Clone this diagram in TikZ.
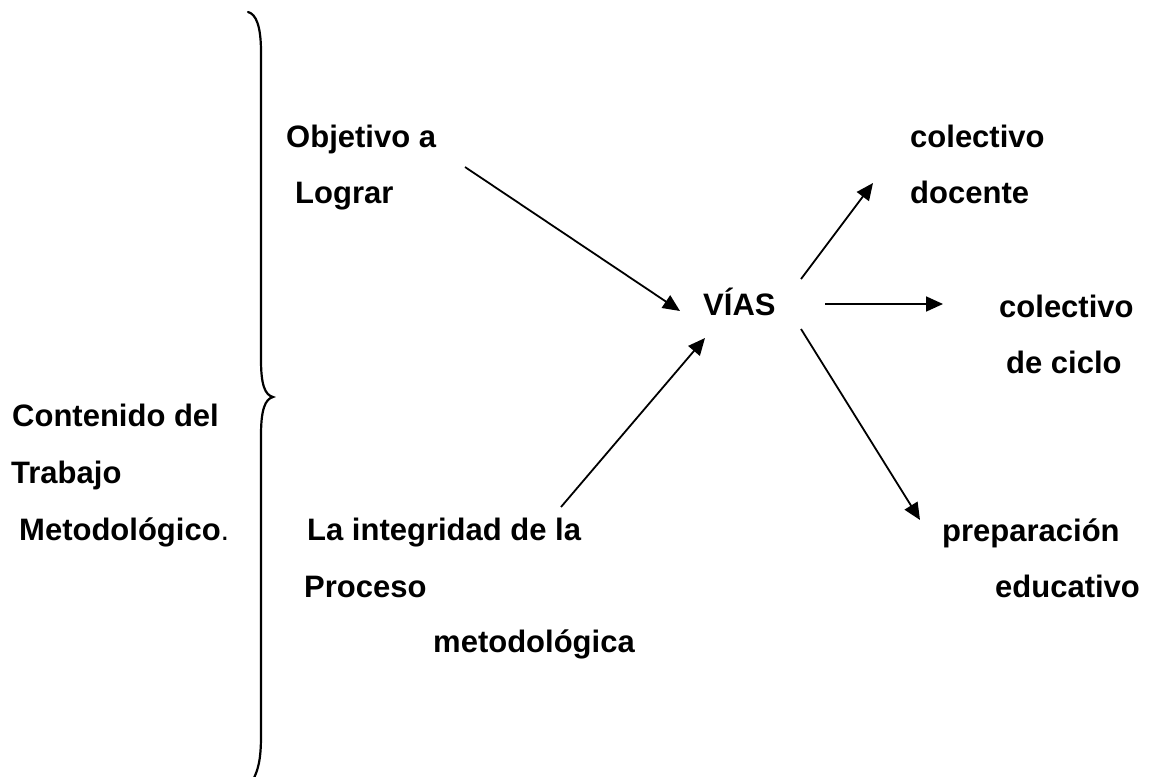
\documentclass[tikz,border=0pt]{standalone}
\usepackage{fontspec}
\setmainfont{Liberation Sans}
\usetikzlibrary{arrows.meta}
\begin{document}
\begin{tikzpicture}[x=1pt,y=-1pt,
  lbl/.style={anchor=base west,inner sep=0pt,font=\fontsize{31}{37}\selectfont\bfseries},
  conn/.style={line width=1.8pt,-{Triangle[length=17pt,width=15pt]}},
  bracestroke/.style={line width=2.2pt,line cap=round}]
\useasboundingbox (0,0) rectangle (1150,776);
% texts
\node[lbl] (obj1) at (286,147) {Objetivo a};
\node[lbl] (obj2) at (295,203) {Lograr};
\node[lbl] (cd1) at (910,147) {colectivo};
\node[lbl] (cd2) at (910,203) {docente};
\node[lbl] (vias) at (703,315) {VÍAS};
\node[lbl] (cc1) at (999,317) {colectivo};
\node[lbl] (cc2) at (1006,373) {de ciclo};
\node[lbl] (ct1) at (12,426) {Contenido del};
\node[lbl] (ct2) at (11,483) {Trabajo};
\node[lbl] (ct3) at (19,540) {Metodológico\textmd{.}};
\node[lbl] (li1) at (307,540) {La integridad de la};
\node[lbl] (li2) at (304,597) {Proceso};
\node[lbl] (li3) at (433,652) {metodológica};
\node[lbl] (pe1) at (942,541) {preparación};
\node[lbl] (pe2) at (995,597) {educativo};
% connector ends
\coordinate (objout) at (465,167);
\coordinate (viasinA) at (680,311);
\coordinate (intout) at (561,507);
\coordinate (viasinB) at (705,338);
\coordinate (viasoutA) at (801,279);
\coordinate (docin) at (873,183);
\coordinate (viasoutB) at (825,304);
\coordinate (cicloin) at (943,304);
\coordinate (viasoutC) at (801,329);
\coordinate (prepin) at (920,520);
% connectors
\draw[conn] (objout) -- (viasinA);
\draw[conn] (intout) -- (viasinB);
\draw[conn] (viasoutA) -- (docin);
\draw[conn] (viasoutB) -- (cicloin);
\draw[conn] (viasoutC) -- (prepin);
% brace
\draw[bracestroke] (248,12) .. controls (256,14) and (261,26) .. (261,52)
  -- (261,360) .. controls (261,385) and (265,395) .. (273,397)
  .. controls (265,399) and (261,410) .. (261,435)
  -- (261,736) .. controls (261,760) and (258,770) .. (253,780);
\end{tikzpicture}
\end{document}
